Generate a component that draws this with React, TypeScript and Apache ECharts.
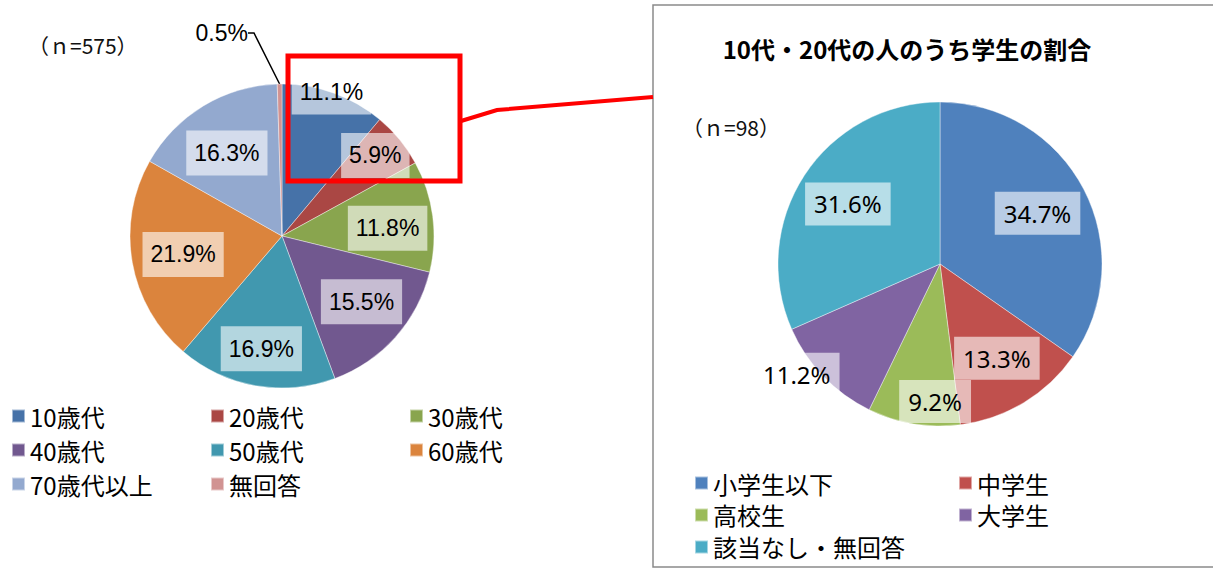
import React, { useEffect, useRef } from "react";
import * as echarts from "echarts";

// Left pie: age groups (n=575)
const ageNames = ["10歳代", "20歳代", "30歳代", "40歳代", "50歳代", "60歳代", "70歳代以上", "無回答"];
const ageValues = [11.1, 5.9, 11.8, 15.5, 16.9, 21.9, 16.3, 0.5];
const ageColors = ["#4672A8", "#AA4744", "#89A54E", "#71588F", "#4198AF", "#DB843D", "#93A9CF", "#D19392"];

// Right pie: students among 10s/20s (n=98)
const studentNames = ["小学生以下", "中学生", "高校生", "大学生", "該当なし・無回答"];
const studentValues = [34.7, 13.3, 9.2, 11.2, 31.6];
const studentColors = ["#4F81BD", "#C0504D", "#9BBB59", "#8064A2", "#4BACC6"];

const titleText = "10代・20代の人のうち学生の割合";
const leftNote = "（ｎ=575）";
const rightNote = "（ｎ=98）";

// label nudges (label placement only)
const leftLabelNudge: Record<string, number[]> = { "10歳代": [13, -44], "20歳代": [11, -13], "30歳代": [0, 6], "40歳代": [0, -5], "50歳代": [-2, 8], "60歳代": [6, 0], "70歳代以上": [0, 8] };
const rightLabelNudge: Record<string, number[]> = { "高校生": [13, 29], "大学生": [-64, 34] };

const CJK = "'Noto Sans CJK JP', 'Noto Sans', sans-serif";
const NARROW = "'Liberation Sans', Arial, sans-serif";

export default function App() {
  const ref = useRef<HTMLDivElement>(null);
  useEffect(() => {
    if (!ref.current) return;
    const chart = echarts.init(ref.current, undefined, { renderer: "svg" });

    const leftData = ageNames.map((n, i) => ({
      name: n,
      value: ageValues[i],
      itemStyle: { color: ageColors[i] },
    }));
    const leftLabelData = ageNames.map((n, i) => {
      const item: any = { name: n, value: ageValues[i] };
      if (leftLabelNudge[n]) item.label = { offset: leftLabelNudge[n] };
      if (n === "無回答") {
        item.label = {
          position: "outside",
          backgroundColor: "transparent",
          padding: 0,
          fontSize: 23,
        };
        item.labelLine = { show: true, length: 40, length2: 6, lineStyle: { color: "#000", width: 1.5 } };
      }
      return item;
    });
    const rightData = studentNames.map((n, i) => ({
      name: n,
      value: studentValues[i],
      itemStyle: { color: studentColors[i] },
    }));
    const rightLabelData = studentNames.map((n, i) => {
      const item: any = { name: n, value: studentValues[i] };
      if (rightLabelNudge[n]) item.label = { offset: rightLabelNudge[n] };
      return item;
    });

    const option: any = {
      animation: false,
      backgroundColor: "#fff",
      legend: [
        {
          data: ageNames,
          left: 11,
          top: 404,
          width: 600,
          padding: 0,
          itemWidth: 13,
          itemHeight: 13,
          itemGap: 10,
          icon: "rect",
          selectedMode: false,
          textStyle: { fontFamily: CJK, fontSize: 24, color: "#000", width: 170, lineHeight: 24 },
        },
        {
          data: studentNames,
          left: 694,
          top: 471,
          width: 550,
          padding: 0,
          itemWidth: 13,
          itemHeight: 13,
          itemGap: 8,
          icon: "rect",
          selectedMode: false,
          textStyle: { fontFamily: CJK, fontSize: 24, color: "#000", width: 237, lineHeight: 22 },
        },
      ],
      series: [
        {
          type: "pie",
          center: [282, 236],
          radius: 152,
          startAngle: 90,
          clockwise: true,
          label: { show: false },
          labelLine: { show: false },
          itemStyle: { borderColor: "rgba(255,255,255,0.5)", borderWidth: 0.8 },
          emphasis: { disabled: true },
          data: leftData,
        },
        {
          type: "pie",
          center: [282, 236],
          radius: [55, 152],
          startAngle: 90,
          clockwise: true,
          silent: true,
          itemStyle: { color: "rgba(0,0,0,0)" },
          emphasis: { disabled: true },
          labelLine: { show: false },
          label: {
            show: true,
            position: "inside",
            formatter: (p: any) => p.value.toFixed(1) + "%",
            fontFamily: NARROW,
            fontSize: 23,
            lineHeight: 23,
            color: "#000",
            backgroundColor: "rgba(255,255,255,0.6)",
            padding: [11, 8],
          },
          labelLayout: (p: any) =>
            p.dataIndex === 7 ? { x: 248, y: 33, align: "right", verticalAlign: "middle" } : {},
          data: leftLabelData,
        },
        {
          type: "pie",
          center: [940, 264],
          radius: 162,
          startAngle: 90,
          clockwise: true,
          label: { show: false },
          labelLine: { show: false },
          itemStyle: { borderColor: "rgba(255,255,255,0.5)", borderWidth: 0.8 },
          emphasis: { disabled: true },
          data: rightData,
        },
        {
          type: "pie",
          center: [940, 264],
          radius: [52, 162],
          startAngle: 90,
          clockwise: true,
          silent: true,
          itemStyle: { color: "rgba(0,0,0,0)" },
          emphasis: { disabled: true },
          labelLine: { show: false },
          label: {
            show: true,
            position: "inside",
            formatter: (p: any) => p.value.toFixed(1) + "%",
            fontFamily: "'Noto Sans', 'Liberation Sans', sans-serif",
            fontSize: 24,
            lineHeight: 25,
            color: "#000",
            backgroundColor: "rgba(255,255,255,0.6)",
            padding: [9, 9],
          },
          data: rightLabelData,
        },
      ],
      graphic: [
        {
          type: "rect",
          z: 100,
          shape: { x: 653, y: 5, width: 580, height: 562 },
          style: { fill: "none", stroke: "#8a8a8a", lineWidth: 1.5 },
        },
        {
          type: "text",
          z: 100,
          x: 907,
          y: 48,
          style: {
            text: titleText,
            fontFamily: CJK,
            fontSize: 24,
            fontWeight: "bold",
            fill: "#000",
            align: "center",
            verticalAlign: "middle",
          },
        },
        {
          type: "text",
          z: 100,
          x: 28,
          y: 45,
          style: { text: leftNote, fontFamily: CJK, fontSize: 21, fill: "#111", align: "left", verticalAlign: "middle" },
        },
        {
          type: "text",
          z: 100,
          x: 682,
          y: 127,
          style: { text: rightNote, fontFamily: CJK, fontSize: 21, fill: "#111", align: "left", verticalAlign: "middle" },
        },
        {
          type: "rect",
          z: 101,
          shape: { x: 288, y: 56, width: 172, height: 125 },
          style: { fill: "none", stroke: "#FF0000", lineWidth: 5 },
        },
        {
          type: "polyline",
          z: 101,
          shape: { points: [[461, 121], [497, 110], [653, 97]] },
          style: { fill: "none", stroke: "#FF0000", lineWidth: 4 },
        },
      ],
    };
    chart.setOption(option);
    return () => chart.dispose();
  }, []);
  return (
    <div
      ref={ref}
      style={{ position: "fixed", left: 0, top: 0, width: 1213, height: 569, background: "#fff" }}
    />
  );
}
